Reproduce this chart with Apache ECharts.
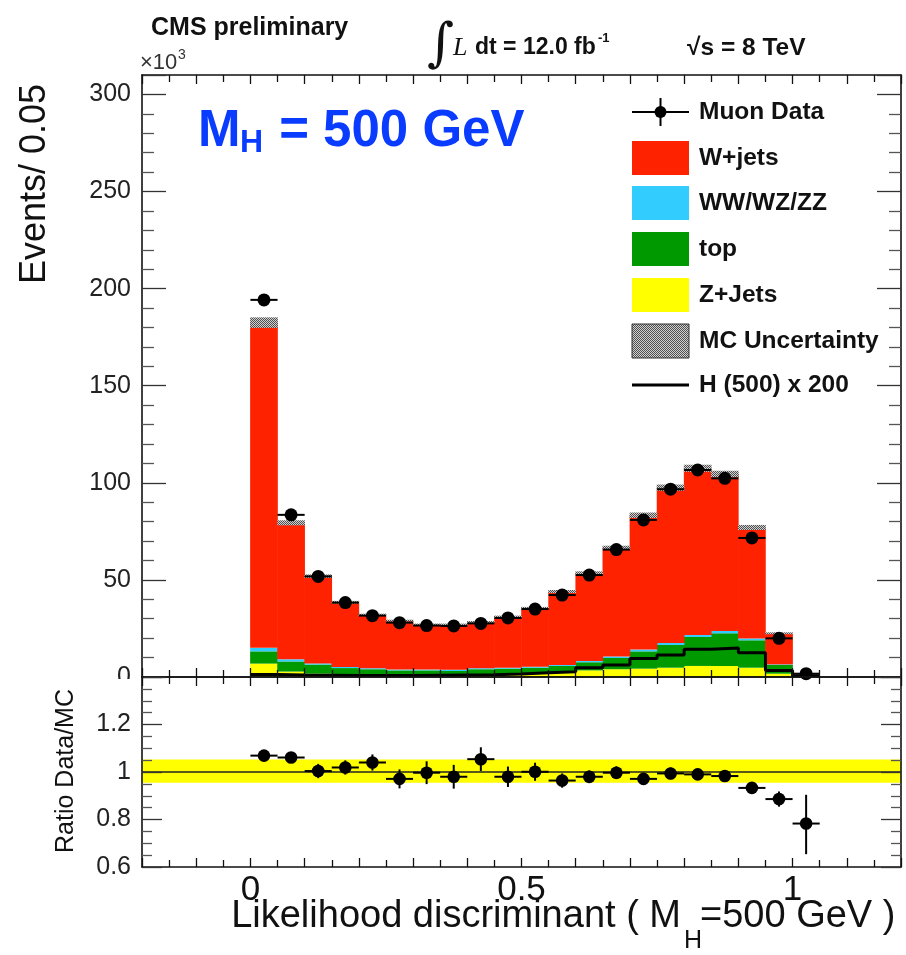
<!DOCTYPE html>
<html><head><meta charset="utf-8">
<script src="https://cdn.jsdelivr.net/npm/echarts@6/dist/echarts.min.js"></script>
<style>html,body{margin:0;padding:0;background:#fff}#c{width:906px;height:955px}</style>
</head><body><div id="c"></div>
<script>
// ---------------- data ----------------
const binLow  = [0,0.05,0.1,0.15,0.2,0.25,0.3,0.35,0.4,0.45,0.5,0.55,0.6,0.65,0.7,0.75,0.8,0.85,0.9,0.95,1.0];
const binHigh = [0.05,0.1,0.15,0.2,0.25,0.3,0.35,0.4,0.45,0.5,0.55,0.6,0.65,0.7,0.75,0.8,0.85,0.9,0.95,1.0,1.05];
// stacked MC components (x10^3 events)
const zJets   = [6.9,2.8,1.7,1.2,1.0,0.9,0.9,0.9,1.4,1.4,1.7,2.1,3.4,4.0,4.3,4.8,5.7,5.7,4.8,1.7,0];
const topQ    = [6.3,5.2,4.7,3.4,3.0,2.5,2.5,2.2,2.6,2.9,3.1,3.6,4.2,5.8,8.9,11.7,14.9,16.8,14.1,4.5,0];
const diboson = [1.8,1.1,0.6,0.6,0.5,0.4,0.4,0.6,0.5,0.5,0.5,0.5,0.6,0.7,0.9,1.0,1.0,1.2,0.9,0.3,0];
const wJets   = [167.5,70.3,44.9,33.3,27.5,25.2,23.2,23.3,23.8,26.2,30.2,37.8,45.3,56.0,69.2,80.0,85.9,80.8,57.2,16.0,0];
const mcUnc   = [2.7,1.3,0.9,0.7,0.6,0.5,0.5,0.5,0.5,0.6,0.6,0.8,0.9,1.1,1.4,1.6,1.8,1.7,1.3,0.5,0];
const muonData= [194.2,83.5,51.8,38.3,31.6,28.0,26.5,26.3,27.6,30.4,35.0,42.2,52.5,65.6,80.9,96.7,106.6,102.3,71.6,19.9,1.7];
const higgsX200=[1.3,1.0,0.9,0.8,0.8,0.8,0.9,1.0,1.1,1.5,2.2,2.7,4.8,6.2,9.5,11.3,14.3,14.9,12.5,3.4,0.6];
// ratio panel
const ratio     = [1.069,1.061,1.004,1.019,1.040,0.971,0.997,0.980,1.054,0.980,1.001,0.964,0.980,0.997,0.971,0.994,0.990,0.983,0.933,0.886,0.783];
const ratioErrUp= [0.018,0.020,0.030,0.030,0.034,0.040,0.048,0.050,0.050,0.043,0.038,0.030,0.027,0.027,0.020,0.025,0.024,0.025,0.020,0.032,0.121];
const ratioErrDn= [0.018,0.020,0.030,0.030,0.034,0.040,0.048,0.050,0.050,0.043,0.038,0.030,0.027,0.027,0.020,0.025,0.024,0.025,0.020,0.032,0.129];
const ratioBand = [0.955,1.053];
const xRange = [-0.2,1.2];
const yTicksTop = [0,50,100,150,200,250,300];
const xLabelTicks = [0,0.5,1];

// ---------------- helpers ----------------
const FONT = '"Liberation Sans", Arial, Helvetica, sans-serif';
const pc = document.createElement('canvas'); pc.width = 4; pc.height = 4;
const pg = pc.getContext('2d');
pg.fillStyle = '#d0d0d0'; pg.fillRect(0,0,4,4);
pg.fillStyle = '#505050';
for (let i=0;i<4;i++) for (let j=0;j<4;j++) if ((i+j)%2===0) pg.fillRect(i,j,1,1);
const hatch = {image: pc, repeat: 'repeat'};

function stackData(lowerArrs, arr){
  const out = [];
  for (let i=0;i<binLow.length;i++){
    let y0 = 0; lowerArrs.forEach(a => y0 += a[i]);
    if (arr[i] > 0) out.push([binLow[i], binHigh[i], y0, y0 + arr[i]]);
  }
  return out;
}
function rectSeries(name, data, fill, z, xi, yi){
  return {
    type:'custom', name, z, xAxisIndex: xi||0, yAxisIndex: yi||0, data,
    encode:{x:[0,1], y:[2,3]}, silent:true, animation:false,
    renderItem(params, api){
      const p0 = api.coord([api.value(0), api.value(2)]);
      const p1 = api.coord([api.value(1), api.value(3)]);
      return {type:'rect', shape:{x:p0[0]-0.3, y:p1[1], width:p1[0]-p0[0]+0.6, height:p0[1]-p1[1]}, style:{fill}};
    }
  };
}
const totals = binLow.map((_,i)=> zJets[i]+topQ[i]+diboson[i]+wJets[i]);
const uncData = [];
for (let i=0;i<binLow.length;i++) if (mcUnc[i]>0) uncData.push([binLow[i], binHigh[i], totals[i]-mcUnc[i], totals[i]+mcUnc[i]]);

const dataPts = binLow.map((x,i)=>[x, binHigh[i], muonData[i]]);
const ratioPts = binLow.map((x,i)=>[x, binHigh[i], ratio[i], ratio[i]-ratioErrDn[i], ratio[i]+ratioErrUp[i]]);
const higgsLine = binLow.map((x,i)=>[x, higgsX200[i]]).concat([[binHigh[binHigh.length-1], higgsX200[higgsX200.length-1]]]);

const axCol = '#111';
function xAxisDef(grid, pos, labels){
  return {
    type:'value', gridIndex:grid, position:pos, min:xRange[0], max:xRange[1], interval:0.1, z:10,
    splitLine:{show:false},
    axisLine:{show:true, onZero:false, lineStyle:{color:axCol, width:1.6}},
    axisTick:{show:true, inside:true, length:9, lineStyle:{color:axCol, width:1.3}},
    minorTick:{show:true, splitNumber:2, length:7, lineStyle:{color:axCol, width:1.3}},
    axisLabel:{show:labels, fontSize:35, fontFamily:FONT, color:'#111', margin:6,
      formatter: v => { for (const t of xLabelTicks) if (Math.abs(v-t)<1e-6) return String(t); return ''; }}
  };
}
function yAxisDef(grid, pos, labels, min, max, interval, split, len, fmt){
  return {
    type:'value', gridIndex:grid, position:pos, min, max, interval, z:10,
    splitLine:{show:false},
    axisLine:{show:true, onZero:false, lineStyle:{color:axCol, width:1.6}},
    axisTick:{show:true, inside:true, length:len, lineStyle:{color:'#333', width:1.3}},
    minorTick:{show:true, splitNumber:split, length:len/2, lineStyle:{color:'#555', width:1.3}},
    axisLabel:{show:labels, fontSize:25, fontFamily:FONT, color:'#222', margin:11, formatter:fmt}
  };
}

const chart = echarts.init(document.getElementById('c'), null, {renderer:'canvas'});

const txt = (x,y,text,opt) => Object.assign({type:'text', x, y, z:30, silent:true,
  style:Object.assign({text, fill:'#111', font:'22px '+FONT, textAlign:'left', textVerticalAlign:'middle', verticalAlign:'middle'}, opt||{})});

const legendY = [112,158,203,249,295,341,385];
const legendNames = ['Muon Data','W+jets','WW/WZ/ZZ','top','Z+Jets','MC Uncertainty','H (500) x 200'];
const sw = {x:632, w:57, h:34};
const legendGraphics = [];
legendNames.forEach((n,i)=>{
  legendGraphics.push(txt(699, legendY[i], n, {font:'bold 24.5px '+FONT}));
});
legendGraphics.push({type:'line', z:30, shape:{x1:sw.x, y1:legendY[0], x2:sw.x+sw.w, y2:legendY[0]}, style:{stroke:'#000', lineWidth:2}});
legendGraphics.push({type:'line', z:30, shape:{x1:sw.x+sw.w/2, y1:legendY[0]-14, x2:sw.x+sw.w/2, y2:legendY[0]+14}, style:{stroke:'#000', lineWidth:2}});
legendGraphics.push({type:'circle', z:31, shape:{cx:sw.x+sw.w/2, cy:legendY[0], r:6}, style:{fill:'#000'}});
[['#ff2200',1],['#33ccff',2],['#009900',3],['#ffff00',4]].forEach(([c,i])=>{
  legendGraphics.push({type:'rect', z:30, shape:{x:sw.x, y:legendY[i]-sw.h/2, width:sw.w, height:sw.h}, style:{fill:c}});
});
legendGraphics.push({type:'rect', z:30, shape:{x:sw.x, y:legendY[5]-sw.h/2, width:sw.w, height:sw.h}, style:{fill:hatch, stroke:'#333', lineWidth:1}});
legendGraphics.push({type:'line', z:30, shape:{x1:sw.x, y1:legendY[6], x2:sw.x+sw.w, y2:legendY[6]}, style:{stroke:'#000', lineWidth:3}});

const option = {
  animation:false,
  backgroundColor:'#fff',
  grid:[{left:142, top:75, width:759, height:602}, {left:142, top:677, width:759, height:190}],
  xAxis:[xAxisDef(0,'bottom',false), xAxisDef(0,'top',false), xAxisDef(1,'bottom',true), xAxisDef(1,'top',false)],
  yAxis:[
    yAxisDef(0,'left',true,0,310,50,5,24, v=> yTicksTop.includes(Math.round(v)) ? String(Math.round(v)) : ''),
    yAxisDef(0,'right',false,0,310,50,5,24),
    yAxisDef(1,'left',true,0.6,1.4,0.2,4,20, v=> v>1.3 ? '' : String(Math.round(v*10)/10)),
    yAxisDef(1,'right',false,0.6,1.4,0.2,4,20)
  ],
  series:[
    rectSeries('Z+Jets', stackData([], zJets), '#ffff00', 2),
    rectSeries('top', stackData([zJets], topQ), '#009900', 2),
    rectSeries('WW/WZ/ZZ', stackData([zJets,topQ], diboson), '#33ccff', 2),
    rectSeries('W+jets', stackData([zJets,topQ,diboson], wJets), '#ff2200', 2),
    rectSeries('MC Uncertainty', uncData, hatch, 3),
    {type:'line', name:'H (500) x 200', xAxisIndex:0, yAxisIndex:0, data:higgsLine, step:'end', symbol:'none', z:4,
     lineStyle:{color:'#000', width:3}, silent:true},
    {type:'custom', name:'Muon Data', xAxisIndex:0, yAxisIndex:0, z:6, data:dataPts, encode:{x:[0,1], y:2}, silent:true,
     renderItem(params, api){
       const a = api.coord([api.value(0), api.value(2)]), b = api.coord([api.value(1), api.value(2)]);
       const cx = (a[0]+b[0])/2;
       return {type:'group', children:[
         {type:'line', shape:{x1:a[0], y1:a[1], x2:b[0], y2:b[1]}, style:{stroke:'#000', lineWidth:2}},
         {type:'circle', shape:{cx, cy:a[1], r:6.5}, style:{fill:'#000'}}
       ]};
     }},
    rectSeries('band', [[xRange[0], xRange[1], ratioBand[0], ratioBand[1]]], '#ffff00', 1, 2, 2),
    {type:'line', xAxisIndex:2, yAxisIndex:2, data:[[xRange[0],1],[xRange[1],1]], symbol:'none', z:2,
     lineStyle:{color:'#222', width:1.5}, silent:true},
    {type:'custom', name:'ratio', xAxisIndex:2, yAxisIndex:2, z:6, data:ratioPts, encode:{x:[0,1], y:[2,3,4]}, silent:true,
     renderItem(params, api){
       const a = api.coord([api.value(0), api.value(2)]), b = api.coord([api.value(1), api.value(2)]);
       const cx = (a[0]+b[0])/2;
       const lo = api.coord([0, api.value(3)])[1], hi = api.coord([0, api.value(4)])[1];
       return {type:'group', children:[
         {type:'line', shape:{x1:a[0], y1:a[1], x2:b[0], y2:b[1]}, style:{stroke:'#000', lineWidth:2}},
         {type:'line', shape:{x1:cx, y1:lo, x2:cx, y2:hi}, style:{stroke:'#000', lineWidth:2}},
         {type:'circle', shape:{cx, cy:a[1], r:6.3}, style:{fill:'#000'}}
       ]};
     }}
  ],
  graphic:[
    {type:'rect', z:25, silent:true, shape:{x:70, y:679, width:68, height:22}, style:{fill:'#fff'}},
    txt(151, 28, 'CMS preliminary', {font:'bold 25px '+FONT}),
    txt(140, 63, '\u00d710', {font:'22px '+FONT, fill:'#333'}),
    txt(178, 55, '3', {font:'14px '+FONT, fill:'#333'}),
    txt(427, 46, '\u222b', {font:'52px "DejaVu Serif", serif'}),
    txt(453, 48, 'L', {font:'italic 26px "Liberation Serif", serif'}),
    txt(475, 48, 'dt = 12.0 fb', {font:'bold 23px '+FONT}),
    txt(598, 38, '-1', {font:'bold 13px '+FONT}),
    txt(687, 48, '\u221as = 8 TeV', {font:'bold 24.5px '+FONT}),
    txt(198, 132, 'M', {font:'bold 51px '+FONT, fill:'#0a3cff'}),
    txt(240, 143, 'H', {font:'bold 32px '+FONT, fill:'#0a3cff'}),
    txt(265, 132, ' = 500 GeV', {font:'bold 51px '+FONT, fill:'#0a3cff'}),
    Object.assign(txt(35, 184, 'Events/ 0.05', {font:'36px '+FONT, textAlign:'center'}), {rotation:Math.PI/2}),
    Object.assign(txt(66, 771, 'Ratio Data/MC', {font:'25px '+FONT, textAlign:'center'}), {rotation:Math.PI/2}),
    txt(681, 917, 'Likelihood discriminant ( M', {font:'38px '+FONT, textAlign:'right'}),
    txt(684, 941, 'H', {font:'25px '+FONT}),
    txt(700, 917, '=500 GeV )', {font:'38px '+FONT})
  ].concat(legendGraphics)
};
chart.setOption(option);
</script>
</body></html>
